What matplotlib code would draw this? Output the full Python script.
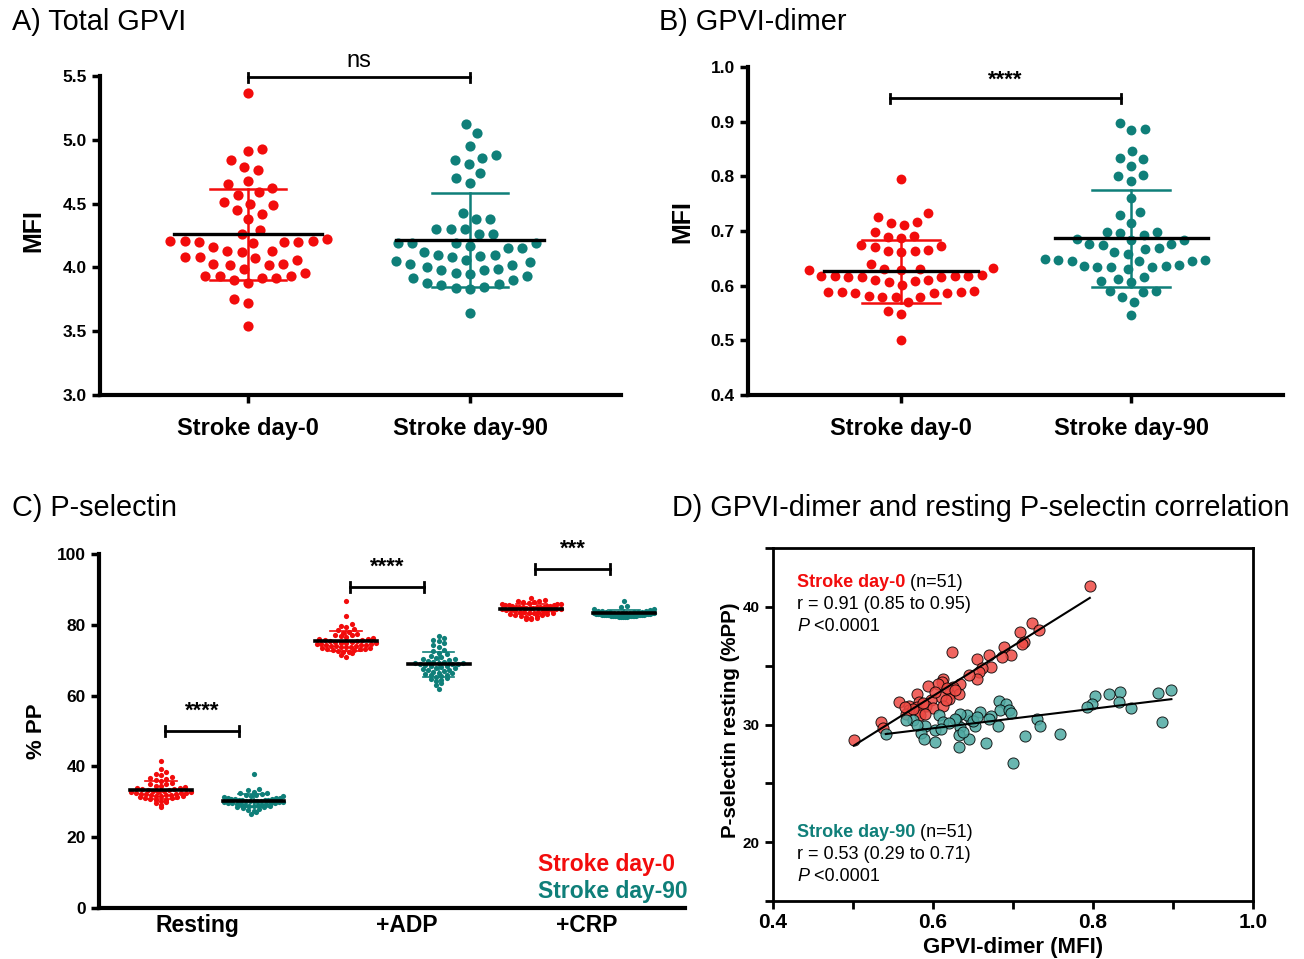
import numpy as np
import matplotlib.pyplot as plt

plt.rcParams['font.family'] = ['Liberation Sans', 'DejaVu Sans']

RED = '#f20c0c'
TEAL = '#0f7f79'
RED_D = '#ee4a44'
TEAL_D = '#4fa9a2'

groups = ['Stroke day-0', 'Stroke day-90']

# A) total GPVI (MFI)
gpvi_d0 = [5.37, 4.93, 4.91, 4.84, 4.79, 4.76, 4.68, 4.65, 4.62, 4.59,
           4.57, 4.51, 4.50, 4.49, 4.45, 4.42, 4.38, 4.29, 4.26, 4.22,
           4.21, 4.21, 4.21, 4.20, 4.20, 4.20, 4.19, 4.16, 4.13, 4.13,
           4.12, 4.08, 4.08, 4.07, 4.06, 4.03, 4.03, 4.02, 4.02, 3.99,
           3.96, 3.93, 3.93, 3.93, 3.92, 3.92, 3.90, 3.88, 3.75, 3.72, 3.54]
gpvi_d90 = [5.12, 5.05, 4.95, 4.88, 4.86, 4.84, 4.81, 4.74, 4.70, 4.66,
            4.43, 4.38, 4.38, 4.30, 4.30, 4.30, 4.26, 4.26, 4.19, 4.19,
            4.19, 4.19, 4.17, 4.15, 4.15, 4.12, 4.10, 4.10, 4.09, 4.08,
            4.06, 4.05, 4.04, 4.03, 4.02, 4.00, 3.99, 3.98, 3.98, 3.96,
            3.95, 3.93, 3.92, 3.90, 3.88, 3.87, 3.86, 3.85, 3.84, 3.83, 3.64]
gpvi_mean = [4.26, 4.215]
gpvi_sd = [0.355, 0.365]

# B) GPVI-dimer (MFI)
dimer_d0 = [0.796, 0.733, 0.725, 0.717, 0.715, 0.711, 0.699, 0.690, 0.689, 0.687,
            0.674, 0.673, 0.671, 0.665, 0.664, 0.663, 0.662, 0.639, 0.632, 0.631,
            0.630, 0.629, 0.628, 0.619, 0.618, 0.618, 0.617, 0.617, 0.616, 0.616,
            0.615, 0.611, 0.610, 0.608, 0.607, 0.601, 0.590, 0.589, 0.588, 0.588,
            0.587, 0.587, 0.586, 0.581, 0.580, 0.580, 0.579, 0.570, 0.553, 0.549, 0.500]
dimer_d90 = [0.897, 0.886, 0.884, 0.847, 0.834, 0.832, 0.819, 0.802, 0.800, 0.792,
             0.760, 0.734, 0.730, 0.715, 0.699, 0.698, 0.697, 0.692, 0.685, 0.684,
             0.683, 0.677, 0.676, 0.675, 0.668, 0.667, 0.662, 0.658, 0.648, 0.647,
             0.647, 0.646, 0.646, 0.645, 0.637, 0.636, 0.636, 0.635, 0.635, 0.634,
             0.631, 0.616, 0.613, 0.609, 0.607, 0.591, 0.590, 0.589, 0.580, 0.570, 0.546]
dimer_mean = [0.626, 0.6865]
dimer_sd = [0.058, 0.0885]

# C) P-selectin (% PP)
conditions = ['Resting', '+ADP', '+CRP']
rest_d0 = [41.6, 39.3, 38.4, 37.9, 37.6, 37.0, 36.6, 36.3, 36.1, 35.8,
           35.4, 35.1, 34.9, 34.6, 34.4, 34.2, 34.0, 33.8, 33.6, 33.5,
           33.3, 33.2, 33.1, 33.0, 32.9, 32.8, 32.7, 32.6, 32.5, 32.4,
           32.3, 32.2, 32.1, 32.0, 31.9, 31.8, 31.7, 31.6, 31.5, 31.4,
           31.3, 31.2, 31.0, 30.8, 30.6, 30.4, 30.2, 30.0, 29.6, 29.2, 28.6]
rest_d90 = [37.9, 33.6, 33.2, 32.9, 32.6, 32.4, 32.2, 32.0, 31.8, 31.6,
            31.5, 31.3, 31.2, 31.1, 31.0, 30.9, 30.8, 30.7, 30.6, 30.5,
            30.5, 30.4, 30.3, 30.3, 30.2, 30.2, 30.1, 30.0, 30.0, 29.9,
            29.8, 29.8, 29.7, 29.6, 29.5, 29.4, 29.3, 29.2, 29.1, 29.0,
            28.9, 28.8, 28.7, 28.6, 28.4, 28.2, 28.0, 27.8, 27.5, 27.2, 26.6]
adp_d0 = [86.7, 82.5, 80.2, 79.8, 79.3, 78.9, 78.5, 78.1, 77.8, 77.5,
          77.2, 77.0, 76.7, 76.5, 76.3, 76.1, 75.9, 75.7, 75.6, 75.4,
          75.3, 75.2, 75.1, 75.0, 74.9, 74.8, 74.7, 74.6, 74.5, 74.4,
          74.3, 74.2, 74.1, 74.0, 73.9, 73.8, 73.7, 73.6, 73.5, 73.4,
          73.3, 73.2, 73.1, 73.0, 72.8, 72.6, 72.4, 72.2, 72.0, 71.6, 71.0]
adp_d90 = [76.7, 76.2, 75.8, 75.3, 74.8, 74.2, 73.6, 73.0, 72.5, 72.1,
           71.7, 71.3, 71.0, 70.7, 70.4, 70.2, 70.0, 69.8, 69.6, 69.4,
           69.3, 69.2, 69.1, 69.0, 68.9, 68.8, 68.7, 68.5, 68.3, 68.1,
           67.9, 67.7, 67.5, 67.3, 67.1, 66.9, 66.7, 66.5, 66.3, 66.1,
           65.9, 65.7, 65.5, 65.2, 64.9, 64.6, 64.3, 64.0, 63.5, 62.9, 61.9]
crp_d0 = [87.5, 87.1, 86.8, 86.6, 86.4, 86.3, 86.1, 86.0, 85.9, 85.8,
          85.7, 85.6, 85.5, 85.4, 85.3, 85.2, 85.1, 85.1, 85.0, 85.0,
          84.9, 84.9, 84.8, 84.8, 84.7, 84.6, 84.5, 84.4, 84.3, 84.2,
          84.1, 84.0, 83.9, 83.8, 83.7, 83.6, 83.5, 83.4, 83.3, 83.2,
          83.1, 83.0, 82.9, 82.8, 82.6, 82.4, 82.2, 82.0, 81.8, 81.7, 81.6]
crp_d90 = [86.7, 85.3, 84.9, 84.6, 84.4, 84.2, 84.0, 83.9, 83.8, 83.7,
           83.6, 83.6, 83.5, 83.5, 83.4, 83.4, 83.3, 83.3, 83.3, 83.2,
           83.2, 83.2, 83.1, 83.1, 83.1, 83.0, 83.0, 83.0, 82.9, 82.9,
           82.9, 82.8, 82.8, 82.8, 82.7, 82.7, 82.7, 82.6, 82.6, 82.6,
           82.5, 82.5, 82.5, 82.4, 82.4, 82.4, 82.3, 82.3, 82.3, 82.2, 82.2]
psel_sig = ['****', '****', '***']

# D) GPVI-dimer vs resting P-selectin
corr_x_d0 = [0.796, 0.724, 0.733, 0.709, 0.714, 0.711, 0.689, 0.698, 0.686, 0.670,
             0.655, 0.624, 0.673, 0.661, 0.657, 0.655, 0.612, 0.611, 0.634, 0.625,
             0.606, 0.594, 0.632, 0.620, 0.580, 0.620, 0.610, 0.598, 0.582, 0.558,
             0.570, 0.580, 0.591, 0.600, 0.612, 0.616, 0.570, 0.582, 0.584, 0.566,
             0.535, 0.537, 0.501, 0.575, 0.588, 0.603, 0.618, 0.628, 0.645, 0.590, 0.565]
corr_y_d0 = [41.8, 38.6, 38.0, 37.9, 37.0, 36.8, 36.6, 35.9, 35.75, 35.9,
             35.6, 36.2, 34.9, 34.8, 34.5, 33.9, 33.9, 33.6, 33.4, 33.2,
             33.4, 33.3, 32.6, 32.6, 32.6, 32.2, 32.35, 32.1, 31.9, 31.9,
             31.6, 31.5, 31.6, 31.4, 31.6, 32.1, 31.2, 31.1, 30.8, 30.9,
             30.2, 29.7, 28.7, 31.3, 31.8, 32.8, 33.1, 32.9, 34.2, 30.9, 31.5]
corr_x_d90 = [0.898, 0.881, 0.886, 0.834, 0.820, 0.802, 0.833, 0.799, 0.792, 0.847,
              0.759, 0.730, 0.734, 0.715, 0.700, 0.682, 0.691, 0.684, 0.695, 0.698,
              0.681, 0.673, 0.670, 0.659, 0.666, 0.652, 0.648, 0.643, 0.645, 0.634,
              0.629, 0.634, 0.632, 0.632, 0.607, 0.612, 0.602, 0.602, 0.590, 0.585,
              0.589, 0.575, 0.566, 0.541, 0.650, 0.627, 0.620, 0.655, 0.610, 0.580, 0.638]
corr_y_d90 = [32.9, 32.7, 30.2, 32.8, 32.6, 32.4, 31.9, 31.7, 31.5, 31.4,
              29.2, 30.45, 29.9, 29.0, 26.7, 32.0, 31.7, 31.2, 31.2, 31.0,
              29.9, 30.7, 30.5, 31.1, 28.4, 29.9, 30.4, 30.8, 28.8, 30.9,
              30.4, 29.8, 29.1, 28.1, 30.8, 30.2, 29.5, 28.5, 29.9, 29.3,
              28.8, 30.4, 30.4, 29.2, 30.3, 30.5, 30.1, 30.6, 29.6, 30.0, 29.4]
stats_d0 = ['r = 0.91 (0.85 to 0.95)', '<0.0001']
stats_d90 = ['r = 0.53 (0.29 to 0.71)', '<0.0001']


def beeswarm(vals, xscale, yscale, dist):
    # greedy swarm in pixel space, returns x offsets in data units
    y = np.asarray(vals, float) * yscale
    xs = np.zeros(len(y))
    done = []
    flip = 1
    for i in np.argsort(y):
        cands = [0.0]
        for j in done:
            dy = y[i] - y[j]
            if abs(dy) < dist:
                dx = np.sqrt(dist ** 2 - dy ** 2)
                cands += [xs[j] + dx, xs[j] - dx]
        cands = sorted(cands, key=lambda c: (round(abs(c), 3), flip * c))
        for c in cands:
            if all((c - xs[j]) ** 2 + (y[i] - y[j]) ** 2 >= dist ** 2 - 1e-6 for j in done):
                xs[i] = c
                break
        done.append(i)
        flip = -flip
    return xs / xscale


def swarm(vals, binw, step, maxw=10.0):
    # row-binned scatter used for the dense panel C groups
    vals = np.asarray(vals, float)
    rows = np.round(vals / binw).astype(int)
    off = np.zeros(len(vals))
    for r in np.unique(rows):
        idx = np.where(rows == r)[0]
        idx = idx[np.argsort(vals[idx])]
        n = len(idx)
        s = step if n < 2 else min(step, maxw / (n - 1))
        pos = (np.arange(n) - (n - 1) / 2) * s
        order = np.argsort(np.abs(pos), kind='stable')
        off[idx] = pos[order]
    return off


def style_axis(ax, lw=3):
    for side in ['top', 'right']:
        ax.spines[side].set_visible(False)
    for side in ['left', 'bottom']:
        ax.spines[side].set_linewidth(lw)
    ax.tick_params(width=2.5, length=6, labelsize=12.5)
    for lab in ax.get_yticklabels():
        lab.set_fontweight('bold')


def mean_sd(ax, x, m, sd, color, half=0.333, cap=0.17, lw_m=2.4, lw_sd=1.8):
    ax.plot([x, x], [m - sd, m + sd], color=color, lw=lw_sd, zorder=3)
    for yy in (m - sd, m + sd):
        ax.plot([x - cap, x + cap], [yy, yy], color=color, lw=lw_sd, zorder=3)
    ax.plot([x - half, x + half], [m, m], color='black', lw=lw_m, zorder=4)


def sig_bar(ax, x0, x1, y, h, text, ty, fs=16, weight='bold'):
    ax.plot([x0, x1], [y, y], color='black', lw=2, clip_on=False)
    for xx in (x0, x1):
        ax.plot([xx, xx], [y - h, y + h], color='black', lw=2, clip_on=False)
    ax.text((x0 + x1) / 2, ty, text, ha='center', va='center', fontsize=fs,
            fontweight=weight, clip_on=False)


W, H = 1304, 959
fig = plt.figure(figsize=(W / 100, H / 100), dpi=100)


def px_axes(left, right, top, bottom):
    return fig.add_axes([left / W, 1 - bottom / H, (right - left) / W, (bottom - top) / H])


# ---------- A
axA = px_axes(100, 621, 76, 395)
for i, (vals, col) in enumerate(zip([gpvi_d0, gpvi_d90], [RED, TEAL])):
    axA.scatter(i + beeswarm(vals, 222, 127.6, 14.5), vals, s=54, color=col, lw=0, zorder=2)
    mean_sd(axA, i, gpvi_mean[i], gpvi_sd[i], col)
axA.set_xlim(-0.667, 1.68)
axA.set_ylim(3.0, 5.5)
axA.set_yticks(np.arange(3.0, 5.51, 0.5))
axA.set_yticklabels([f'{v:.1f}' for v in np.arange(3.0, 5.51, 0.5)])
axA.set_xticks([0, 1])
axA.set_xticklabels(groups, fontweight='bold')
style_axis(axA)
axA.tick_params(axis='x', pad=10, labelsize=17)
sig_bar(axA, 0, 1, 5.49, 0.035, 'ns', 5.62, fs=17, weight='normal')

# ---------- B
axB = px_axes(748, 1283, 67, 395)
for i, (vals, col) in enumerate(zip([dimer_d0, dimer_d90], [RED, TEAL])):
    axB.scatter(i + beeswarm(vals, 230, 547, 13.5), vals, s=50, color=col, lw=0, zorder=2)
    mean_sd(axB, i, dimer_mean[i], dimer_sd[i], col)
axB.set_xlim(-0.665, 1.66)
axB.set_ylim(0.4, 1.0)
axB.set_yticks(np.arange(0.4, 1.01, 0.1))
axB.set_yticklabels([f'{v:.1f}' for v in np.arange(0.4, 1.01, 0.1)])
axB.set_xticks([0, 1])
axB.set_xticklabels(groups, fontweight='bold')
style_axis(axB)
axB.tick_params(axis='x', pad=10, labelsize=17)
sig_bar(axB, -0.05, 0.957, 0.943, 0.008, '****', 0.975)

# ---------- C
axC = px_axes(99, 685, 554, 908)
c_groups = [rest_d0, rest_d90, adp_d0, adp_d90, crp_d0, crp_d90]
for k, vals in enumerate(c_groups):
    col = RED if k % 2 == 0 else TEAL
    axC.scatter(k + swarm(vals, 1.4, 0.058, 0.64), vals, s=14, color=col, lw=0, zorder=2)
    mean_sd(axC, k, np.mean(vals), np.std(vals), col, lw_m=2.6, lw_sd=1.2)
axC.set_xlim(-0.67, 5.66)
axC.set_ylim(0, 100)
axC.set_yticks(np.arange(0, 101, 20))
axC.set_xticks([0.39, 2.65, 4.6])
axC.set_xticklabels(conditions, fontweight='bold')
style_axis(axC)
axC.tick_params(axis='x', length=0, pad=4, labelsize=16.5)
sig_y = [50, 90.7, 95.8]
for j, (sy, txt) in enumerate(zip(sig_y, psel_sig)):
    x0 = 2 * j + 0.045
    sig_bar(axC, x0, x0 + 0.8, sy, 1.4, txt, sy + 5.6)
axC.text(4.07, 12.4, groups[0], color=RED, ha='left', va='center', fontsize=16.5,
         fontweight='bold', clip_on=False)
axC.text(4.07, 4.8, groups[1], color=TEAL, ha='left', va='center', fontsize=16.5,
         fontweight='bold', clip_on=False)

# ---------- D
axD = px_axes(773, 1253, 548, 901)
axD.scatter(corr_x_d0, corr_y_d0, s=64, facecolor=RED_D, edgecolor='black', lw=0.7,
            alpha=0.85, zorder=2)
axD.scatter(corr_x_d90, corr_y_d90, s=64, facecolor=TEAL_D, edgecolor='black', lw=0.7,
            alpha=0.85, zorder=2)
for xs, ys in [(corr_x_d0, corr_y_d0), (corr_x_d90, corr_y_d90)]:
    xs = np.asarray(xs)
    k, b = np.polyfit(xs, ys, 1)
    xx = np.array([xs.min(), xs.max()])
    axD.plot(xx, k * xx + b, color='black', lw=1.5, zorder=3)
axD.set_xlim(0.4, 1.0)
axD.set_ylim(15, 45)
axD.set_xticks([0.4, 0.6, 0.8, 1.0])
axD.set_xticks([0.5, 0.7, 0.9], minor=True)
axD.set_yticks([20, 30, 40])
axD.set_yticks([15, 25, 35, 45], minor=True)
for sp in axD.spines.values():
    sp.set_linewidth(2)
axD.tick_params(which='both', width=2, length=6)
axD.tick_params(axis='x', labelsize=15, pad=3)
axD.tick_params(axis='y', labelsize=11)
for lab in axD.get_xticklabels() + axD.get_yticklabels():
    lab.set_fontweight('bold')
axD.set_xlabel('GPVI-dimer (MFI)', fontsize=16, fontweight='bold', labelpad=3)


def stat_block(ax, y0, name, color, stats):
    t = ax.text(0.43, y0, name, color=color, fontsize=13, fontweight='bold', va='center')
    ax.annotate(' (n=51)', xy=(1, 0.5), xycoords=t, va='center', fontsize=13)
    ax.text(0.43, y0 - 1.87, stats[0], fontsize=13, va='center')
    p = ax.text(0.43, y0 - 3.74, 'P', fontsize=13, va='center', style='italic')
    ax.annotate(' ' + stats[1], xy=(1, 0.5), xycoords=p, va='center', fontsize=13)


stat_block(axD, 42.03, groups[0], RED, stats_d0)
stat_block(axD, 20.8, groups[1], TEAL, stats_d90)

# ---------- titles and y labels
for x, y, s in [(12, 22, 'A) Total GPVI'), (659, 22, 'B) GPVI-dimer'),
                (12, 508, 'C) P-selectin'),
                (672, 508, 'D) GPVI-dimer and resting P-selectin correlation')]:
    fig.text(x / W, 1 - y / H, s, fontsize=20.8, va='center', ha='left')
for x, y, s, fs in [(33, 231, 'MFI', 18), (682, 222, 'MFI', 18), (36, 731, '% PP', 16),
                    (730, 720, 'P-selectin resting (%PP)', 14.8)]:
    fig.text(x / W, 1 - y / H, s, fontsize=fs, fontweight='bold', rotation=90,
             ha='center', va='center')

fig.savefig('out.png', dpi=100)
